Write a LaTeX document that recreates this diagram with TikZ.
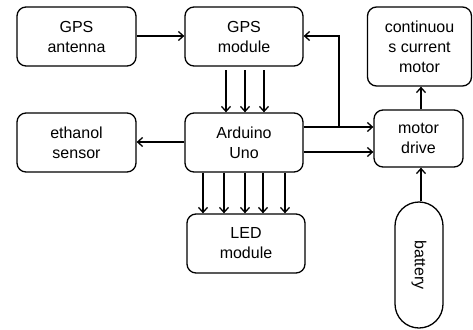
\documentclass[tikz,border=0pt]{standalone}
\usepackage{fontspec}
\setmainfont{Liberation Sans}
\usetikzlibrary{arrows.meta}
\begin{document}
\begin{tikzpicture}[x=1pt,y=-1pt,
  box/.style={draw,line width=1.3pt,rounded corners=9pt,inner sep=0pt,align=center,font=\fontsize{16}{20}\selectfont},
  arr/.style={line width=1.3pt,-{Straight Barb[length=5pt,width=9pt,line width=1.3pt]}},
  ln/.style={line width=1.3pt}]
\useasboundingbox (0,0) rectangle (473,329);
\node[box,minimum width=119pt,minimum height=59pt] (ant) at (76.5,36.5) {GPS\\antenna};
\node[box,minimum width=118pt,minimum height=59pt] (gps) at (244,36.5) {GPS\\module};
\node[box,minimum width=104pt,minimum height=79pt] (mot) at (419.5,46.5) {continuou\\s current\\motor};
\node[box,minimum width=119pt,minimum height=59pt] (eth) at (76.5,142.5) {ethanol\\sensor};
\node[box,minimum width=118pt,minimum height=59pt] (ard) at (244,142.5) {Arduino\\Uno};
\node[box,minimum width=89pt,minimum height=57pt] (drv) at (418.5,138.5) {motor\\drive};
\node[box,minimum width=118pt,minimum height=59pt] (led) at (246,243.5) {LED\\module};
\node[box,rounded corners=24pt,minimum width=48pt,minimum height=126pt] (bat) at (419,265) {};
\node[rotate=-90,font=\fontsize{16}{20}\selectfont] (batt) at (bat.center) {battery};
% connectors
\draw[arr] (ant.east |- 0,36) -- (gps.west |- 0,36);
\foreach \x/\n in {226/a,245/b,264/c}{
  \coordinate (s\n) at (\x,70);
  \draw[arr] (s\n) -- (s\n |- ard.north);
}
\draw[arr] (ard.west |- 0,142) -- (eth.east |- 0,142);
\draw[arr] (ard.east |- 0,127) -- (drv.west |- 0,127);
\draw[arr] (ard.east |- 0,152) -- (drv.west |- 0,152);
\coordinate (fb) at (339,127);
\draw[arr] (fb) -- (339,36) -- (gps.east |- 0,36);
\draw[arr] (drv.north -| 421,0) -- (mot.south -| 421,0);
\foreach \x in {203,224,245,263,285}{
  \draw[arr] (ard.south -| \x,0) -- (led.north -| \x,0);
}
\draw[arr] (bat.north -| 421,0) -- (drv.south -| 421,0);
\end{tikzpicture}
\end{document}
